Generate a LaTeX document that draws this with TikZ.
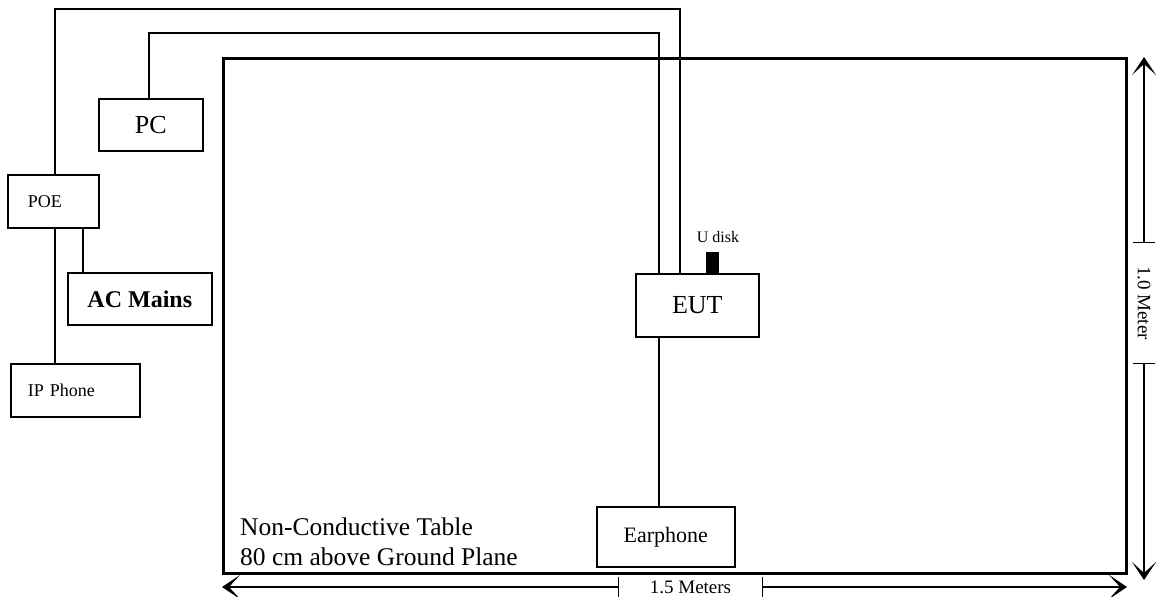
\documentclass[tikz,border=0pt]{standalone}
\usepackage{fontspec}
\setmainfont{Liberation Serif}
\usetikzlibrary{arrows.meta}
\begin{document}
\begin{tikzpicture}[x=1pt,y=-1pt,
  box/.style={draw, line width=1.6pt, inner sep=0pt, anchor=north west},
  wire/.style={line width=1.5pt},
  dimline/.style={line width=1.1pt},
  arr/.style={-{Stealth[length=18pt,width=24pt,inset=11pt]}},
  fs/.style={font=\fontsize{#1}{#1}\selectfont},
  fsb/.style={font=\fontsize{#1}{#1}\selectfont\bfseries}]
\useasboundingbox (0,0) rectangle (1157,597);
% table
\node[draw, line width=3pt, minimum width=903pt, minimum height=515pt, inner sep=0pt, anchor=north west] (table) at (222,57) {};
% devices
\node[box, minimum width=104pt, minimum height=52pt, fs=26] (pc) at (98,98) {PC};
\node[box, minimum width=91pt, minimum height=53pt, fs=18, align=left, text width=51pt, inner xsep=20pt] (poe) at (7,174) {POE};
\node[box, minimum width=144pt, minimum height=52pt, fsb=24] (ac) at (67,272) {AC Mains};
\node[box, minimum width=129pt, minimum height=53pt, fs=18, align=left, text width=95pt, inner xsep=17pt] (ip) at (10,363) {IP Phone};
\node[box, minimum width=123pt, minimum height=63pt, fs=26] (eut) at (635,273) {EUT};
\node[box, minimum width=138pt, minimum height=60pt, fs=22] (ear) at (596,506) {Earphone};
\node[fill, minimum width=13pt, minimum height=21pt, inner sep=0pt, anchor=south west] (usb) at (706,273) {};
\node[fs=16, inner sep=0pt] (usblabel) at (718,237) {U disk};
% table text
\node[fs=25.5, inner sep=0pt, anchor=base west] (t1) at (240,535) {Non-Conductive Table};
\node[fs=25.5, inner sep=0pt, anchor=base west] (t2) at (240,565) {80 cm above Ground Plane};
% wires
\draw[wire] ([xshift=48pt]poe.north west) -- ++(0,-165) -| ([xshift=45pt]eut.north west);
\draw[wire] ([xshift=51pt]pc.north west) -- ++(0,-65) -| ([xshift=24pt]eut.north west);
\draw[wire] ([xshift=76pt]poe.south west) -- ([xshift=16pt]ac.north west);
\draw[wire] ([xshift=48pt]poe.south west) -- ([xshift=45pt]ip.north west);
\draw[wire] ([xshift=24pt]eut.south west) -- ([xshift=63pt]ear.north west);
% bottom dimension
\coordinate (bl) at (222,587);
\coordinate (br) at (1127,587);
\node[fs=19, minimum width=143pt, minimum height=20pt, inner sep=0pt] (w) at (690.5,587) {1.5 Meters};
\draw[dimline] (w.north west) -- (w.south west);
\draw[dimline] (w.north east) -- (w.south east);
\draw[dimline, arr] (w.west) -- (bl);
\draw[dimline, arr] (w.east) -- (br);
% right dimension
\coordinate (rt) at (1144,57);
\coordinate (rb) at (1144,580);
\node[fs=19, rotate=-90, minimum width=120pt, minimum height=22pt, inner sep=0pt] (h) at (1144,303) {1.0 Meter};
\draw[dimline] (h.north west) -- (h.south west);
\draw[dimline] (h.north east) -- (h.south east);
\draw[dimline, arr] (h.west) -- (rt);
\draw[dimline, arr] (h.east) -- (rb);
\end{tikzpicture}
\end{document}
